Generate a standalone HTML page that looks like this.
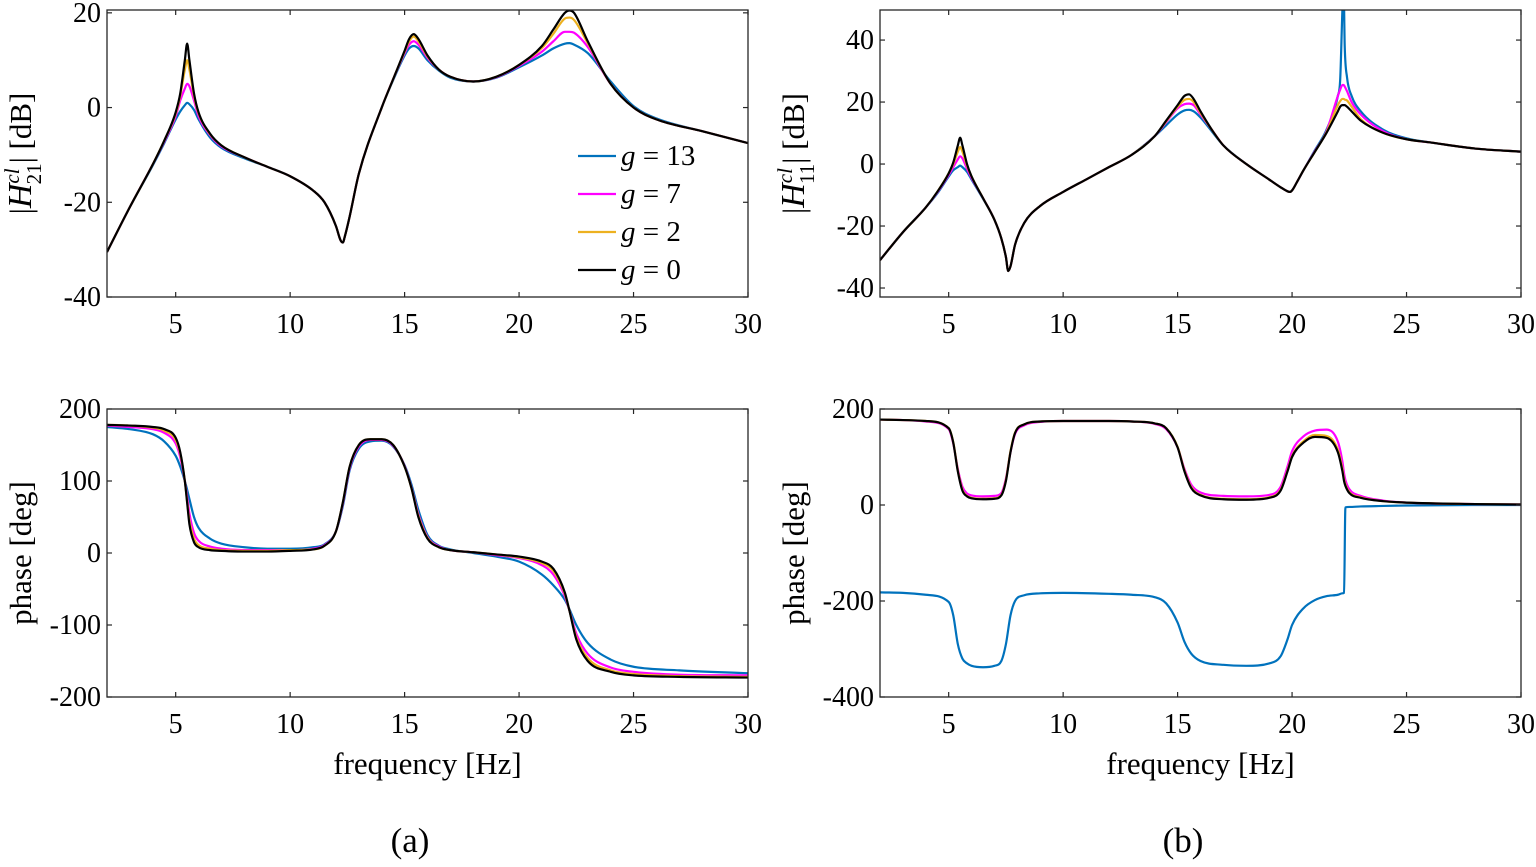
<!DOCTYPE html>
<html><head><meta charset="utf-8"><style>
body{margin:0;background:#fff}
svg text{font-family:"Liberation Serif",serif;fill:#000}
</style></head><body>
<svg id="s" width="1536" height="862" xmlns="http://www.w3.org/2000/svg"></svg>
<script>
// ---------- data ----------
const freqA1=[2,3,4,4.5,5,5.2,5.4,5.5,5.6,5.8,6,6.5,7,8,9,10,11,11.5,12,12.2,12.3,12.4,12.6,13,14,14.5,15,15.2,15.4,15.6,16,16.5,17,18,19,20,21,21.5,22,22.2,22.4,23,24,25,26,28,30];
const a1_g0 =[-30.5,-21,-12,-7,-1,3,10,13.5,10,3,-1,-5.5,-8,-10.5,-12.5,-14.5,-17.5,-20,-25,-28,-28.5,-27,-23,-14,0,6,12,14.5,15.5,14.5,11,8,6.5,5.5,6.5,9,13,16.5,20,20.5,20,14,5,0,-2.5,-5,-7.5];
const a1_g2 =[-30.5,-21,-12,-7,-1.3,2.5,8,10,8,2.5,-1.2,-5.6,-8,-10.5,-12.5,-14.5,-17.5,-20,-25,-28,-28.5,-27,-23,-14,0,6,11.8,14,15,14,10.8,8,6.5,5.5,6.5,9,12.6,15.6,18.8,19,18.5,13.6,5,0,-2.5,-5,-7.5];
const a1_g7 =[-30.5,-21,-12,-7.2,-1.8,1.5,4,5,4.5,1.5,-1.8,-5.8,-8.2,-10.5,-12.5,-14.5,-17.5,-20,-25,-28,-28.5,-27,-23,-14,0,6,11.5,13.3,14,13.3,10.5,8,6.5,5.5,6.4,8.8,11.8,14,16,16,15.8,12.8,5,0,-2.5,-5,-7.5];
const a1_g13=[-30.5,-21,-12.2,-7.5,-2.5,-0.8,0.5,1,0.7,-0.5,-2.5,-6.3,-8.5,-10.7,-12.5,-14.5,-17.5,-20,-25,-28,-28.5,-27,-23,-14,0,5.8,11,12.5,13,12.5,10,7.8,6.3,5.5,6.3,8.5,11,12.5,13.5,13.6,13.3,11.5,5.5,0.3,-2.3,-5,-7.5];

const freqA2=[2,3,4,4.5,5,5.2,5.4,5.5,5.6,5.8,6,6.5,7,8,9,10,11,11.5,12,12.3,12.6,13,13.5,14,14.5,15,15.3,15.6,16,16.5,17,18,19,20,21,21.5,22,22.2,22.5,23,24,25,27,30];
const a2_g0 =[178,177,175,172,160,140,100,70,40,15,8,4,3,2,2,3,5,10,30,70,120,150,158,158,150,120,90,50,20,8,4,1,-2,-5,-12,-22,-55,-80,-120,-150,-165,-170,-172,-173];
const a2_g2 =[178,177,174,170,157,138,100,72,45,20,11,6,4,3,3,4,5,10,30,70,120,150,158,158,150,120,90,52,21,8,4,1,-2,-6,-14,-25,-57,-80,-117,-146,-163,-168,-171,-172];
const a2_g7 =[177,175,172,167,152,133,100,78,55,28,17,9,6,4,4,4,6,11,30,68,118,148,157,157,149,121,91,54,22,9,4,1,-3,-7,-17,-30,-60,-80,-112,-140,-159,-165,-169,-170];
const a2_g13=[175,172,165,155,135,120,100,88,75,50,35,20,13,8,6,6,8,12,30,65,115,145,155,156,148,122,95,60,25,10,5,0,-5,-12,-30,-45,-65,-78,-100,-125,-148,-158,-163,-167];

const freqB1=[2,3,4,4.5,5,5.2,5.4,5.5,5.6,5.8,6,6.5,7,7.3,7.5,7.6,7.7,7.9,8.3,9,10,11,12,13,14,14.5,15,15.3,15.5,15.7,16,16.5,17,18,19,19.5,19.8,19.9,20,20.2,20.5,21,21.5,22,22.1,22.2,22.25,22.3,22.4,22.6,23,24,25,26,28,30];
const b1_g0 =[-31,-22,-14,-9,-3,0.5,6,8.5,6,0,-4,-11,-18,-24,-30,-34.5,-33,-26,-19,-13.5,-9,-5,-1,3,9,14,19,22,22.5,21,17,11,6,0,-5,-7.5,-8.8,-9,-8.5,-6,-2,4,10,17,18.5,19,19,19,18.5,17,14,10,8,7,5,4];
const b1_g2 =[-31,-22,-14,-9,-3,0,4,5.5,4,-0.5,-4,-11,-18,-24,-30,-34.5,-33,-26,-19,-13.5,-9,-5,-1,3,9,13.8,18.5,20.7,21,20,16.5,11,6,0,-5,-7.5,-8.8,-9,-8.5,-6,-2,4,10.2,19,20.3,21,21,20.8,20.5,18.5,14.5,10,8,7,5,4];
const b1_g7 =[-31,-22,-14,-9.2,-3.5,-1,1.5,2.5,1.8,-1.5,-4.5,-11,-18,-24,-30,-34.5,-33,-26,-19,-13.5,-9,-5,-1,3,9,13.5,18,19.3,19.5,19,16,11,6,0,-5,-7.5,-8.8,-9,-8.5,-6,-2,4.2,10.5,22,24,25.5,25.5,25,23.5,20,16,10.5,8,7,5,4];
const b1_g13=[-31,-22,-14,-9.5,-4,-2,-1,-0.5,-1,-2.5,-5,-11.2,-18,-24,-30,-34.5,-33,-26,-19,-13.5,-9,-5,-1,3,9,12.5,16,17.3,17.5,17,15,10.5,6,0,-5,-7.5,-8.8,-9,-8.5,-6,-2,4.5,11,22,27,50,58,38,28,22,17,11,8.3,7,5,4];

const freqB2=[2,3,4,5,5.2,5.4,5.6,5.8,6,6.5,7,7.3,7.5,7.7,7.9,8.3,9,10,12,13,14,14.5,15,15.3,15.6,16,17,18,19,19.5,19.8,20,20.5,21,21.5,22,22.2,22.27,22.33,22.5,23,24,25,28,30];
const b2_g0 =[178,177,175,160,130,70,30,18,14,12,13,20,50,110,150,168,174,175,175,174,170,160,120,70,35,20,12,11,15,30,70,100,130,142,140,110,70,50,40,25,15,8,5,2,1];
const b2_g2 =[178,177,175,160,131,72,32,19,15,13,14,21,52,112,151,168,174,175,175,174,170,160,121,72,37,21,13,12,16,32,72,102,133,146,144,115,75,54,43,27,16,8,5,2,1];
const b2_g7 =[178,177,174,158,128,75,38,24,20,18,19,25,55,110,148,166,173,175,175,174,169,158,120,75,42,26,19,18,21,38,80,112,143,155,157,132,90,66,52,33,19,9,5,2,1];
const b2_g13=[-182,-183,-187,-202,-230,-290,-320,-330,-335,-338,-335,-325,-290,-230,-200,-188,-184,-183,-185,-187,-192,-205,-245,-285,-310,-325,-333,-335,-330,-315,-280,-250,-215,-198,-190,-187,-184,-183,-5,-4,-3,-2,-1,0,0];

const xTicks=[5,10,15,20,25,30];
const yTicksA1=[20,0,-20,-40], yTicksA2=[200,100,0,-100,-200];
const yTicksB1=[40,20,0,-20,-40], yTicksB2=[200,0,-200,-400];
const legendLabels=["g = 13","g = 7","g = 2","g = 0"];

// ---------- drawing ----------
const NS="http://www.w3.org/2000/svg", svg=document.getElementById('s');
const colors={g13:"#0072BD",g7:"#FF00FF",g2:"#EDB120",g0:"#000000"};
function mk(t,a,p){const e=document.createElementNS(NS,t);for(const k in a)e.setAttribute(k,a[k]);(p||svg).appendChild(e);return e;}
function monotone(xs,ys){
  const n=xs.length,d=[],m=[];
  for(let i=0;i<n-1;i++)d.push((ys[i+1]-ys[i])/(xs[i+1]-xs[i]));
  m[0]=d[0];m[n-1]=d[n-2];
  for(let i=1;i<n-1;i++)m[i]=(d[i-1]*d[i]<=0)?0:(d[i-1]+d[i])/2;
  for(let i=0;i<n-1;i++){if(d[i]===0){m[i]=m[i+1]=0;continue;}const a=m[i]/d[i],b=m[i+1]/d[i],s=a*a+b*b;if(s>9){const t=3/Math.sqrt(s);m[i]=t*a*d[i];m[i+1]=t*b*d[i];}}
  let p="M"+xs[0].toFixed(2)+","+ys[0].toFixed(2);
  for(let i=0;i<n-1;i++){const h=(xs[i+1]-xs[i])/3;p+="C"+(xs[i]+h).toFixed(2)+","+(ys[i]+m[i]*h).toFixed(2)+" "+(xs[i+1]-h).toFixed(2)+","+(ys[i+1]-m[i+1]*h).toFixed(2)+" "+xs[i+1].toFixed(2)+","+ys[i+1].toFixed(2);}
  return p;
}
let clipId=0;
function panel(name,L,T,R,B,ymin,ymax,yTicks,freq,series,yLabel,xLabel){
  const g=mk('g',{});
  const sx=f=>L+(f-2)/(30-2)*(R-L), sy=v=>B-(v-ymin)/(ymax-ymin)*(B-T);
  const id='c'+(clipId++);
  const cp=mk('clipPath',{id:id},g);mk('rect',{x:L,y:T,width:R-L,height:B-T},cp);
  const lines=mk('g',{'clip-path':'url(#'+id+')',},g);
  for(const [key,vals] of series){
    const p=mk('path',{d:monotone(freq.map(sx),vals.map(sy)),fill:'none',stroke:colors[key],'stroke-width':2.2,'stroke-linejoin':'round'},lines);
    
    
  }
  const ax=mk('rect',{x:L,y:T,width:R-L,height:B-T,fill:'none',stroke:'#262626','stroke-width':1.3},g);
  
  for(const t of xTicks){const x=sx(t);
    mk('line',{x1:x,y1:B,x2:x,y2:B-5,stroke:'#262626','stroke-width':1.2},g);mk('line',{x1:x,y1:T,x2:x,y2:T+5,stroke:'#262626','stroke-width':1.2},g);
    const tx=mk('text',{x:x,y:B+36,'font-size':28,'text-anchor':'middle'},g);tx.textContent=t;
    }
  for(const t of yTicks){const y=sy(t);
    mk('line',{x1:L,y1:y,x2:L+5,y2:y,stroke:'#262626','stroke-width':1.2},g);mk('line',{x1:R,y1:y,x2:R-5,y2:y,stroke:'#262626','stroke-width':1.2},g);
    const tx=mk('text',{x:L-6,y:y+9,'font-size':28,'text-anchor':'end'},g);tx.textContent=t;
    }
  const cy=(T+B)/2, lx=L-76;
  const yl=mk('text',{x:lx,y:cy,'font-size':31,'text-anchor':'middle',transform:'rotate(-90 '+lx+' '+cy+')'},g);
  
  yl.innerHTML=yLabel;
  if(xLabel){const xl=mk('text',{x:(L+R)/2,y:B+77,'font-size':31,'text-anchor':'middle'},g);xl.textContent=xLabel;
    }
  return {sx,sy};
}
const magA='|<tspan font-style="italic" font-size="34">H</tspan><tspan font-size="21" dy="-12" font-style="italic">cl</tspan><tspan font-size="21" dx="-16" dy="22">21</tspan><tspan dy="-10">| [dB]</tspan>';
const magB='|<tspan font-style="italic" font-size="34">H</tspan><tspan font-size="21" dy="-12" font-style="italic">cl</tspan><tspan font-size="21" dx="-16" dy="22">11</tspan><tspan dy="-10">| [dB]</tspan>';
panel('panel-a-magnitude',107,10,748,297,-40,20.6,yTicksA1,freqA1,[['g13',a1_g13],['g7',a1_g7],['g2',a1_g2],['g0',a1_g0]],magA,null);
panel('panel-a-phase',107,409,748,697,-200,200,yTicksA2,freqA2,[['g13',a2_g13],['g7',a2_g7],['g2',a2_g2],['g0',a2_g0]],'phase [deg]','frequency [Hz]');
panel('panel-b-magnitude',880,10,1521,297,-42.9,49.7,yTicksB1,freqB1,[['g13',b1_g13],['g7',b1_g7],['g2',b1_g2],['g0',b1_g0]],magB,null);
panel('panel-b-phase',880,409,1521,697,-400,200,yTicksB2,freqB2,[['g13',b2_g13],['g7',b2_g7],['g2',b2_g2],['g0',b2_g0]],'phase [deg]','frequency [Hz]');

// legend
const lg=mk('g',{});
const keys=['g13','g7','g2','g0'];
keys.forEach((k,i)=>{const y=156+i*38;
  const e=mk('g',{},lg);
  mk('line',{x1:578,y1:y,x2:616,y2:y,stroke:colors[k],'stroke-width':2.2},e);
  const parts=legendLabels[i].split(' = ');
  const t=mk('text',{x:621,y:y+9,'font-size':29},e);
  t.innerHTML='<tspan font-style="italic">'+parts[0]+'</tspan> = '+parts[1];
});
const ca=mk('text',{x:410,y:852,'font-size':35,'text-anchor':'middle'});ca.textContent='(a)';

const cb=mk('text',{x:1183,y:852,'font-size':35,'text-anchor':'middle'});cb.textContent='(b)';

</script>
</body></html>
